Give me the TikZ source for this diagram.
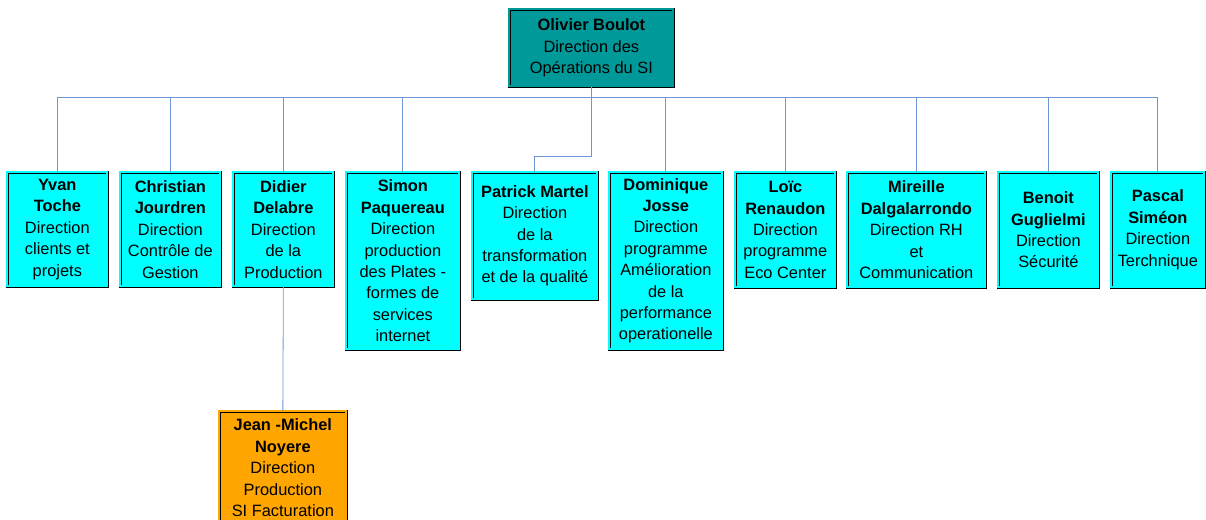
\documentclass[tikz,border=0pt]{standalone}
\usepackage{fontspec}
\setmainfont{Liberation Sans}
\usepackage{tikz}
\usetikzlibrary{positioning}

\definecolor{boxcyan}{RGB}{0,255,255}
\definecolor{boxteal}{RGB}{0,153,153}
\definecolor{boxorange}{RGB}{255,166,0}
\definecolor{lienbleu}{RGB}{110,150,215}

\newcommand{\nom}[1]{\textbf{#1}}

\begin{document}
\begin{tikzpicture}[x=1pt,y=-1pt,
    poste/.style={fill=#1,draw=black,double=#1,double distance=2pt,line width=0.7pt,
      inner sep=0pt,align=center,anchor=north west,
      font=\fontsize{16.4}{21.4}\selectfont},
    poste/.default=boxcyan,
    lien/.style={draw=lienbleu,line width=0.8pt}]
  \useasboundingbox (0,0) rectangle (1206,519);
  \clip (0,0) rectangle (1206,519);
    % direction
	\node[poste=boxteal,minimum width=164pt,minimum height=77pt] (dirsi) at (509,9)
	  {\nom{Olivier Boulot}\\Direction des\\Op\'erations du SI};
    % premier niveau
	\node[poste,minimum width=100pt,minimum height=114pt] (toche) at (7,172)
	  {\nom{Yvan}\\\nom{Toche}\\Direction\\clients et\\projets};
	\node[poste,minimum width=100pt,minimum height=114pt] (jourdren) at (120,172)
	  {\nom{Christian}\\\nom{Jourdren}\\Direction\\Contr\^ole de\\Gestion};
	\node[poste,minimum width=100pt,minimum height=114pt] (delabre) at (233,172)
	  {\nom{Didier}\\\nom{Delabre}\\Direction\\de la\\Production};
	\node[poste,minimum width=113pt,minimum height=177pt] (paquereau) at (346,172)
	  {\nom{Simon}\\\nom{Paquereau}\\Direction\\production\\des Plates -\\formes de\\services\\internet};
	\node[poste,minimum width=125pt,minimum height=127pt] (martel) at (472,172)
	  {\nom{Patrick Martel}\\Direction\\de la\\transformation\\et de la qualit\'e};
	\node[poste,minimum width=113pt,minimum height=177pt] (josse) at (609,172)
	  {\nom{Dominique}\\\nom{Josse}\\Direction\\programme\\Am\'elioration\\de la\\performance\\operationelle};
	\node[poste,minimum width=100pt,minimum height=115pt] (renaudon) at (735,172)
	  {\nom{Lo\"ic}\\\nom{Renaudon}\\Direction\\programme\\Eco Center};
	\node[poste,minimum width=138pt,minimum height=115pt] (dalga) at (847,172)
	  {\nom{Mireille}\\\nom{Dalgalarrondo}\\Direction RH\\et\\Communication};
	\node[poste,minimum width=100pt,minimum height=115pt] (guglielmi) at (998,172)
	  {\nom{Benoit}\\\nom{Guglielmi}\\Direction\\S\'ecurit\'e};
	\node[poste,minimum width=93pt,minimum height=115pt] (simeon) at (1111,172)
	  {\nom{Pascal}\\\nom{Sim\'eon}\\Direction\\Terchnique};
    % second niveau
	\node[poste=boxorange,minimum width=127pt,minimum height=113pt] (noyere) at (219,411)
	  {\nom{Jean -Michel}\\\nom{Noyere}\\Direction\\Production\\SI Facturation};
    % liens
	\coordinate (barre) at (0,97);
	\coordinate (coude) at (0,156);
	\foreach \n in {toche,jourdren,delabre,paquereau,josse,renaudon,dalga,guglielmi,simeon}
	  \draw[lien] (dirsi.south) -- (dirsi.south |- barre) -| (\n.north);
	\draw[lien] (dirsi.south) -- (dirsi.south |- coude) -| (martel.north);
	\draw[lien] (delabre.south) -- (noyere.north);
\end{tikzpicture}
\end{document}
